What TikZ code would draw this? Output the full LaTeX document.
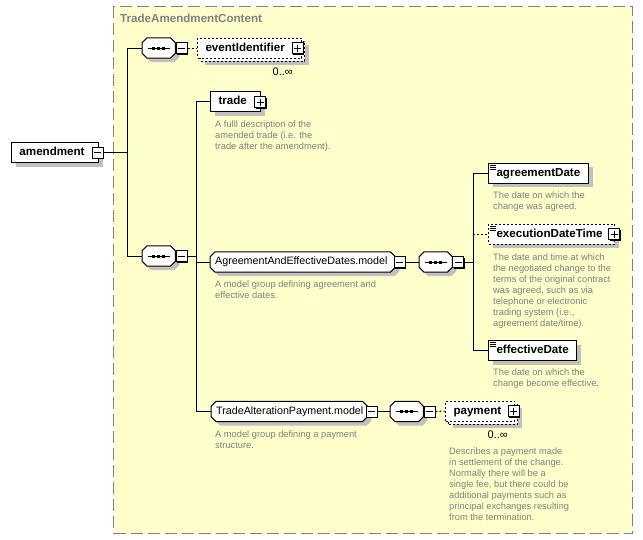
\documentclass[tikz,border=0pt]{standalone}
\usepackage{fontspec}
\setmainfont{Liberation Sans}
\usetikzlibrary{shadows,calc}
\definecolor{ybg}{RGB}{255,255,204}
\definecolor{bordgray}{RGB}{128,128,128}
\definecolor{descgray}{RGB}{128,128,128}
\definecolor{shadowc}{RGB}{192,192,192}
\pgfdeclarelayer{back}
\pgfdeclarelayer{bg}
\pgfsetlayers{back,bg,main}
\newcommand\elemfont{\fontsize{11.6}{13}\bfseries\selectfont}
\newcommand\modelfont{\fontsize{10.7}{12}\selectfont}
\newcommand\descfont{\fontsize{9.3}{11}\selectfont}
\newcommand\minusbox[2]{\node[pmb] (#1) at (#2) {};
  \draw[line width=1pt] ([xshift=-3.5pt]#1.center) -- ([xshift=3.5pt]#1.center);}
\newcommand\plusbox[2]{\minusbox{#1}{#2}
  \draw[line width=1pt] ([yshift=-3.5pt]#1.center) -- ([yshift=3.5pt]#1.center);}
\newcommand\chamfpath[3]{($(#1.north west)+(#2+5,#3)$) -- ($(#1.north east)+(#2-5,#3)$) -- ($(#1.north east)+(#2,#3+5)$) -- ($(#1.south east)+(#2,#3-5)$) -- ($(#1.south east)+(#2-5,#3)$) -- ($(#1.south west)+(#2+5,#3)$) -- ($(#1.south west)+(#2,#3-5)$) -- ($(#1.north west)+(#2,#3+5)$) -- cycle}
\newcommand\chamf[1]{\begin{pgfonlayer}{bg}
  \fill[shadowc] \chamfpath{#1}{4}{4};
  \filldraw[fill=white,draw=black,line width=1pt] \chamfpath{#1}{0}{0};
  \end{pgfonlayer}}
\newcommand\seqdots[1]{\draw[line width=1pt] ([xshift=-11pt]#1.center) -- ([xshift=11pt]#1.center);
  \foreach \dx in {-5,0,5} \fill ([shift={(\dx-1.5,-1.5)}]#1.center) rectangle ++(3,3);}
\newcommand\simpleicon[1]{\foreach \dy in {2.5,4.5,6.5} \draw[line width=0.8pt] ($(#1.north west)+(2,\dy)$) -- ++(6,0);}
\begin{document}
\begin{tikzpicture}[x=1pt,y=-1pt,
  ebase/.style={rectangle, draw=black, fill=white, line width=1pt, minimum height=20pt,
    inner xsep=8pt, inner ysep=0pt, align=left, font=\elemfont, anchor=west,
    text height=8.5pt, text depth=2.5pt},
  shad/.style={drop shadow={shadow xshift=4pt,shadow yshift=-4pt,fill=shadowc,opacity=1}},
  elem/.style={ebase,shad},
  opt/.style={dash pattern=on 2pt off 2pt},
  pmb/.style={rectangle, draw=black, fill=white, line width=1pt, minimum size=11pt, inner sep=0pt,
    drop shadow={shadow xshift=1pt,shadow yshift=-1pt,fill=black,opacity=1}},
  grp/.style={rectangle, minimum height=20pt, inner xsep=5pt, inner ysep=0pt, align=left,
    font=\modelfont, anchor=west, text height=8pt, text depth=2.5pt},
  seq/.style={rectangle, minimum width=33pt, minimum height=20pt, inner sep=0pt, anchor=west},
  desc/.style={anchor=north west, inner sep=0pt, align=left, font=\descfont, text=descgray},
  mult/.style={anchor=east, inner sep=0pt, font=\fontsize{11}{12}\selectfont},
  conn/.style={draw=black, line width=1pt},
  optconn/.style={conn, dash pattern=on 2pt off 2pt}]
\useasboundingbox (0,0) rectangle (643,539);
% complex type frame
\begin{pgfonlayer}{back}
\fill[white] (0,0) rectangle (643,539);
\node[rectangle, fill=ybg, draw=bordgray, line width=1pt, dash pattern=on 12pt off 5pt,
  minimum width=519pt, minimum height=527pt, anchor=north west, inner sep=0pt] (frame) at (113,6) {};
\end{pgfonlayer}
\node[anchor=west, inner sep=0pt, font=\elemfont, text=bordgray] (title) at (120,18.5) {TradeAmendmentContent};

% root element
\node[elem, text width=71pt] (amend) at (11,152.5) {amendment};
\minusbox{amendm}{97.5,152.5}

% top sequence
\node[seq] (seq1) at (142,48) {};
\chamf{seq1}\seqdots{seq1}
\minusbox{seq1m}{181.5,48}
\node[ebase,opt,shad,text width=88pt] (evidb) at (200,51) {};
\node[ebase,opt,text width=88pt] (evid) at (197,48) {eventIdentifier};
\plusbox{evidp}{297.5,48}
\node[mult] (evidmult) at (293,72) {0..∞};

% second sequence
\node[seq] (seq2) at (142,256) {};
\chamf{seq2}\seqdots{seq2}
\minusbox{seq2m}{181.5,256}

\node[elem, text width=34pt] (trade) at (210,101.5) {trade};
\plusbox{tradep}{260,102}
\node[desc] (tradedesc) at (215,120.5) {A fulll description of the\\amended trade (i.e. the\\trade after the amendment).};

\node[grp, text width=175pt] (agm) at (210,262) {AgreementAndEffectiveDates.model};
\chamf{agm}
\minusbox{agmm}{399.5,262}
\node[desc] (agmdesc) at (215,280.5) {A model group defining agreement and\\effective dates.};

\node[seq] (seq3) at (419,262) {};
\chamf{seq3}\seqdots{seq3}
\minusbox{seq3m}{458,262}

\node[elem, text width=84pt] (agd) at (488,173) {agreementDate};
\simpleicon{agd}
\node[desc] (agddesc) at (493,191.5) {The date on which the\\change was agreed.};

\node[elem, opt, text width=110pt] (edt) at (488,234) {executionDateTime};
\simpleicon{edt}
\plusbox{edtp}{614,234}
\node[desc] (edtdesc) at (493,253.5) {The date and time at which\\the negotiated change to the\\terms of the original contract\\was agreed, such as via\\telephone or electronic\\trading system (i.e.,\\agreement date/time).};

\node[elem, text width=72pt] (efd) at (488,350.5) {effectiveDate};
\simpleicon{efd}
\node[desc] (efddesc) at (493,368.5) {The date on which the\\change become effective.};

\node[grp, text width=146pt] (tap) at (211,411.5) {TradeAlterationPayment.model};
\chamf{tap}
\minusbox{tapm}{371.5,411.5}
\node[desc] (tapdesc) at (215,430.5) {A model group defining a payment\\structure.};

\node[seq] (seq4) at (390,411.5) {};
\chamf{seq4}\seqdots{seq4}
\minusbox{seq4m}{429.5,411.5}

\node[ebase,opt,shad,text width=53pt] (payb) at (448,414) {};
\node[ebase,opt,text width=53pt] (pay) at (445,411) {payment};
\plusbox{payp}{513.5,411}
\node[mult] (paymult) at (508,435) {0..∞};
\node[desc] (paydesc) at (449,447.5) {Describes a payment made\\in settlement of the change.\\Normally there will be a\\single fee, but there could be\\additional payments such as\\principal exchanges resulting\\from the termination.};

% junctions
\coordinate (j1t) at (127,48);
\coordinate (j1b) at (127,256);
\coordinate (j2t) at (196,101.5);
\coordinate (j2b) at (196,411.5);
\coordinate (j3t) at (473,173);
\coordinate (j3b) at (473,350.5);

% connectors
\begin{pgfonlayer}{bg}
\draw[conn] (amendm.east) -- (j1t |- amendm.east);
\draw[conn] (j1t) -- (j1b);
\draw[conn] (j1t) -- (seq1.west);
\draw[optconn] (seq1m.east) -- (evid.west);
\draw[conn] (j1b) -- (seq2.west);
\draw[conn] (seq2m.east) -- (j2t |- seq2m.east);
\draw[conn] (j2t) -- (j2b);
\draw[conn] (j2t) -- (trade.west);
\draw[conn] (j2t |- agm.west) -- (agm.west);
\draw[conn] (j2b) -- (tap.west);
\draw[conn] (agmm.east) -- (seq3.west);
\draw[conn] (seq3m.east) -- (j3t |- seq3m.east);
\draw[conn] (j3t) -- (j3b);
\draw[conn] (j3t) -- (agd.west);
\draw[optconn] (j3t |- edt.west) -- (edt.west);
\draw[conn] (j3b) -- (efd.west);
\draw[conn] (tapm.east) -- (seq4.west);
\draw[optconn] (seq4m.east) -- (pay.west);
\end{pgfonlayer}
\end{tikzpicture}
\end{document}
